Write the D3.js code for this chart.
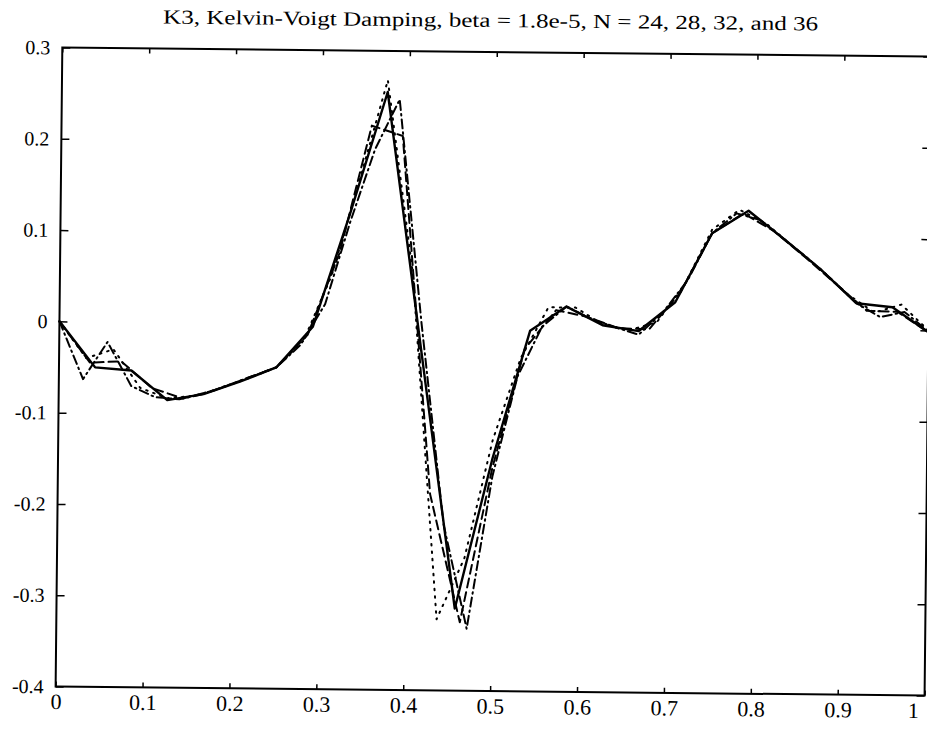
<!DOCTYPE html>
<html>
<head>
<meta charset="utf-8">
<title>K3, Kelvin-Voigt Damping</title>
<style>
  body { margin: 0; background: #fff; }
  svg text { font-family: "Liberation Serif", "DejaVu Serif", serif; fill: #000; }
</style>
</head>
<body>
<svg width="927" height="730"></svg>
<script src="https://d3js.org/d3.v7.min.js"></script>
<script>
// tick labels
var xTicks = [0, 0.1, 0.2, 0.3, 0.4, 0.5, 0.6, 0.7, 0.8, 0.9, 1];
var xTickLabels = ["0", "0.1", "0.2", "0.3", "0.4", "0.5", "0.6", "0.7", "0.8", "0.9", "1"];
var yTicks = [-0.4, -0.3, -0.2, -0.1, 0, 0.1, 0.2, 0.3];
var yTickLabels = ["-0.4", "-0.3", "-0.2", "-0.1", "0", "0.1", "0.2", "0.3"];

// displacement at the nodes, one list per mesh size N
var n24 = [0, -0.050, -0.053, -0.085, -0.078, -0.064, -0.048, -0.003, 0.122, 0.255,
  -0.028, -0.310, -0.145, -0.005, 0.022, 0.002, -0.004, 0.028, 0.104, 0.129,
  0.098, 0.066, 0.029, 0.025, -0.002];
var n28 = [0, -0.045, -0.043, -0.072, -0.083, -0.074, -0.061, -0.048, -0.012, 0.078,
  0.218, 0.207, -0.185, -0.325, -0.155, -0.025, 0.018, 0.011, -0.001, -0.002,
  0.039, 0.104, 0.126, 0.107, 0.079, 0.050, 0.021, 0.020, -0.002];
var n32 = [0, -0.040, -0.030, -0.072, -0.083, -0.080, -0.071, -0.060, -0.048, -0.018,
  0.053, 0.158, 0.268, 0.055, -0.322, -0.255, -0.125, -0.035, 0.021, 0.021,
  0.003, -0.003, 0.006, 0.047, 0.108, 0.130, 0.115, 0.090, 0.066, 0.039,
  0.019, 0.028, 0.000];
var n36 = [0, -0.063, -0.022, -0.070, -0.082, -0.084, -0.078, -0.068, -0.058, -0.048,
  -0.023, 0.022, 0.112, 0.192, 0.247, 0.002, -0.218, -0.332, -0.165, -0.055,
  0.000, 0.022, 0.009, 0.000, -0.008, 0.017, 0.052, 0.104, 0.126, 0.119,
  0.098, 0.077, 0.054, 0.029, 0.014, 0.020, -0.001];

var series = [
  {values: n24, dash: null},
  {values: n28, dash: "9,5"},
  {values: n32, dash: "1.5,6"},
  {values: n36, dash: "9,4,1.5,4"}
];

var svg = d3.select("svg");
var L = 59, R = 928, T = 52, B = 691;

// the scanned page is turned a little
var g = svg.append("g").attr("transform", "rotate(0.6,490,367)");

var x = d3.scaleLinear().domain([0, 1]).range([L, R]);
var y = d3.scaleLinear().domain([-0.4, 0.3]).range([B, T]);

g.append("text")
  .attr("x", 487)
  .attr("y", 27)
  .attr("text-anchor", "middle")
  .attr("font-size", 20)
  .attr("textLength", 655)
  .attr("lengthAdjust", "spacingAndGlyphs")
  .text("K3, Kelvin-Voigt Damping, beta = 1.8e-5, N = 24, 28, 32, and 36");

// axes, ticks pointing inward like matlab
var bottom = g.append("g")
  .attr("transform", "translate(0," + B + ")")
  .call(d3.axisBottom(x).tickValues(xTicks).tickSize(-5).tickSizeOuter(0).tickPadding(7)
    .tickFormat(function(d, i) { return xTickLabels[i]; }));
bottom.selectAll("text").attr("font-size", 22).attr("dy", "0.71em");
// last label sits on the page edge, keep it inside
bottom.selectAll(".tick").filter(function(d) { return d === 1; })
  .select("text").attr("text-anchor", "end").attr("x", -6);

g.append("g")
  .attr("transform", "translate(0," + T + ")")
  .call(d3.axisTop(x).tickValues(xTicks).tickSize(-5).tickSizeOuter(0).tickFormat(""));

var left = g.append("g")
  .attr("transform", "translate(" + L + ",0)")
  .call(d3.axisLeft(y).tickValues(yTicks).tickSize(-8).tickSizeOuter(0).tickPadding(12)
    .tickFormat(function(d, i) { return yTickLabels[i]; }));
left.selectAll("text").attr("font-size", 20);

g.append("g")
  .attr("transform", "translate(" + R + ",0)")
  .call(d3.axisRight(y).tickValues(yTicks).tickSize(-8).tickSizeOuter(0).tickFormat(""));

g.selectAll(".domain").remove();
g.selectAll(".tick line").attr("stroke", "#000").attr("stroke-width", 1.5);

g.append("rect")
  .attr("x", L).attr("y", T)
  .attr("width", R - L).attr("height", B - T)
  .attr("fill", "none")
  .attr("stroke", "#000")
  .attr("stroke-width", 2);

var line = d3.line()
  .x(function(d) { return x(d.x); })
  .y(function(d) { return y(d.y); });

series.forEach(function(s) {
  var n = s.values.length - 1;
  var pts = s.values.map(function(v, i) { return {x: i / n, y: v}; });
  g.append("path")
    .datum(pts)
    .attr("d", line)
    .attr("fill", "none")
    .attr("stroke", "#000")
    .attr("stroke-width", s.dash ? 2 : 2.4)
    .attr("stroke-linecap", s.dash ? "round" : "butt")
    .attr("stroke-linejoin", "round")
    .attr("stroke-dasharray", s.dash);
});
</script>
</body>
</html>
